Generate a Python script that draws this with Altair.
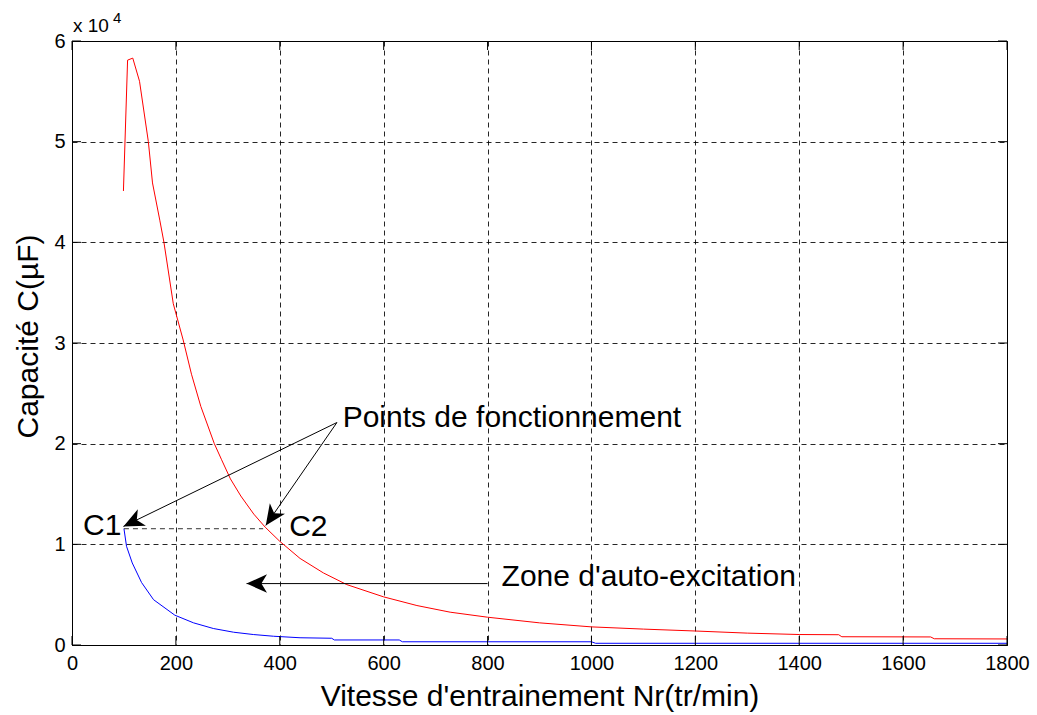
import math

import altair as alt
import pandas as pd

# Upper limit of the self-excitation capacitance (red curve)
red_speed = [99, 107, 117, 130, 147, 155, 169, 177, 195, 214, 230, 248, 274, 288,
             305, 325, 350, 372, 400, 439, 484, 529, 600, 664, 728, 800, 900,
             1000, 1100, 1200, 1300, 1400, 1476, 1482, 1653, 1660, 1800]
red_cap = [45100, 58100, 58300, 56000, 50000, 45900, 42200, 40000, 33900, 30300,
           26900, 23700, 20000, 18400, 16500, 14800, 13000, 11700, 10300, 8600,
           7160, 6000, 4780, 3920, 3260, 2760, 2200, 1800, 1580, 1390, 1180, 1040,
           1020, 820, 800, 620, 600]

# Lower limit of the self-excitation capacitance (blue curve)
blue_speed = [100, 105, 116, 134, 157, 198, 234, 272, 311, 349, 388, 439, 500,
              505, 630, 636, 1000, 1008, 1800]
blue_cap = [11560, 9800, 8150, 6200, 4500, 2960, 2200, 1640, 1270, 1040, 870,
            720, 670, 500, 500, 320, 320, 170, 170]

# Axis ticks
x_ticks = [0, 200, 400, 600, 800, 1000, 1200, 1400, 1600, 1800]
y_ticks = [0, 10000, 20000, 30000, 40000, 50000, 60000]

# Operating points C1 / C2 joined by a dashed segment
link_speed = [100]
link_speed2 = [368]
link_cap = [11550]

# Annotation texts (anchor in data units)
left_text = ["Points de fonctionnement", "C2", "Zone d'auto-excitation"]
left_speed = [521, 418, 827]
left_cap = [21700, 10870, 5900]
right_text = ["C1"]
right_speed = [95]
right_cap = [10960]

# Arrows: start point -> tip
arrow_from_speed = [510, 510, 800]
arrow_from_cap = [22100, 22100, 6100]
arrow_to_speed = [99, 373, 336]
arrow_to_cap = [11780, 11880, 6100]

W, H = 935, 604
X_MAX, Y_MAX = 1800, 60000
FONT = "Liberation Sans"
ARROW_PATH = "M0,0 L0.9,2 L0,1.45 L-0.9,2 Z"


def screen_angle(n0, c0, n1, c1):
    dx = (n1 - n0) * W / X_MAX
    dy = -(c1 - c0) * H / Y_MAX
    return math.degrees(math.atan2(dx, -dy)) % 360


curves = pd.concat([
    pd.DataFrame({"speed": red_speed, "cap": red_cap, "serie": "max",
                  "idx": range(len(red_speed))}),
    pd.DataFrame({"speed": blue_speed, "cap": blue_cap, "serie": "min",
                  "idx": range(len(blue_speed))}),
])
links = pd.DataFrame({"speed": link_speed, "speed2": link_speed2,
                      "cap": link_cap, "cap2": link_cap})
arrows = pd.DataFrame({"speed": arrow_from_speed, "cap": arrow_from_cap,
                       "speed2": arrow_to_speed, "cap2": arrow_to_cap})
heads = pd.DataFrame({
    "speed": arrow_to_speed, "cap": arrow_to_cap,
    "angle": [screen_angle(a, b, c, d) for a, b, c, d in
              zip(arrow_from_speed, arrow_from_cap, arrow_to_speed, arrow_to_cap)],
})
labels_left = pd.DataFrame({"speed": left_speed, "cap": left_cap, "txt": left_text})
labels_right = pd.DataFrame({"speed": right_speed, "cap": right_cap, "txt": right_text})
xt = pd.DataFrame({"speed": x_ticks})
yt = pd.DataFrame({"cap": y_ticks})

x_axis = alt.Axis(
    values=x_ticks, format="d", grid=True, gridDash=[5, 4], gridColor="#000",
    gridOpacity=0.85, domainColor="#000", ticks=False, labelFontSize=20,
    labelColor="#000", labelFont=FONT, labelPadding=8, labelFlush=False,
    labelOverlap=False,
    title="Vitesse d'entrainement Nr(tr/min)", titleFont=FONT, titleFontSize=30,
    titleFontWeight="normal", titleColor="#000", titleBaseline="alphabetic",
    titleY=60,
)
y_axis = alt.Axis(
    values=y_ticks, labelExpr="datum.value / 10000", grid=True, gridDash=[5, 4],
    gridColor="#000", gridOpacity=0.85, domainColor="#000", ticks=False,
    labelFontSize=20, labelColor="#000", labelFont=FONT, labelPadding=7,
    labelFlush=False, labelOverlap=False,
    title="Capacité C(µF)", titleFont=FONT, titleFontSize=30,
    titleFontWeight="normal", titleColor="#000", titleBaseline="alphabetic",
    titleX=-35, titleY=295,
)
xs = alt.Scale(domain=[0, X_MAX], nice=False, zero=False)
ys = alt.Scale(domain=[0, Y_MAX], nice=False, zero=False)
X = alt.X("speed:Q", scale=xs, axis=x_axis)
Y = alt.Y("cap:Q", scale=ys, axis=y_axis)

lines = alt.Chart(curves).mark_line(strokeWidth=1).encode(
    x=X, y=Y,
    color=alt.Color("serie:N", scale=alt.Scale(domain=["max", "min"],
                                               range=["#ff0000", "#0000ff"]),
                    legend=None),
    order="idx:Q",
)

link = alt.Chart(links).mark_rule(strokeDash=[5, 4], color="#333", strokeWidth=1).encode(
    x=X, y=Y, x2="speed2:Q", y2="cap2:Q")

arrow_lines = alt.Chart(arrows).mark_rule(color="#000", strokeWidth=1).encode(
    x=X, y=Y, x2="speed2:Q", y2="cap2:Q")

arrow_heads = alt.Chart(heads).mark_point(
    shape=ARROW_PATH, filled=True, color="#000", opacity=1, size=420, strokeWidth=0
).encode(x=X, y=Y, angle=alt.Angle("angle:Q", scale=None))

txt_left = alt.Chart(labels_left).mark_text(
    align="left", baseline="alphabetic", font=FONT, fontSize=30, color="#000"
).encode(x=X, y=Y, text="txt:N")

txt_right = alt.Chart(labels_right).mark_text(
    align="right", baseline="alphabetic", font=FONT, fontSize=30, color="#000"
).encode(x=X, y=Y, text="txt:N")

# Inward ticks on all four sides of the box
tick_bottom = alt.Chart(xt).mark_rule(color="#000").encode(
    x=X, y=alt.value(H), y2=alt.value(H - 9))
tick_top = alt.Chart(xt).mark_rule(color="#000").encode(
    x=X, y=alt.value(0), y2=alt.value(9))
tick_left = alt.Chart(yt).mark_rule(color="#000").encode(
    y=Y, x=alt.value(0), x2=alt.value(9))
tick_right = alt.Chart(yt).mark_rule(color="#000").encode(
    y=Y, x=alt.value(W), x2=alt.value(W - 9))

# Axis multiplier "x 10^4"
mult = alt.Chart(pd.DataFrame({"t": ["x 10"]})).mark_text(
    align="left", baseline="alphabetic", font=FONT, fontSize=19, color="#000"
).encode(x=alt.value(1), y=alt.value(-9), text="t:N")
expo = alt.Chart(pd.DataFrame({"t": ["4"]})).mark_text(
    align="left", baseline="alphabetic", font=FONT, fontSize=15, color="#000"
).encode(x=alt.value(41), y=alt.value(-18), text="t:N")

chart = alt.layer(
    lines, link, arrow_lines, arrow_heads, txt_left, txt_right,
    tick_bottom, tick_top, tick_left, tick_right, mult, expo,
).properties(
    width=W, height=H,
    padding={"left": 72, "top": 41, "right": 30, "bottom": 70},
    autosize=alt.AutoSizeParams(type="none"),
    background="white",
).configure_view(stroke="#000", strokeWidth=1)

chart.save("out.html", embed_options={"renderer": "svg", "actions": False})
